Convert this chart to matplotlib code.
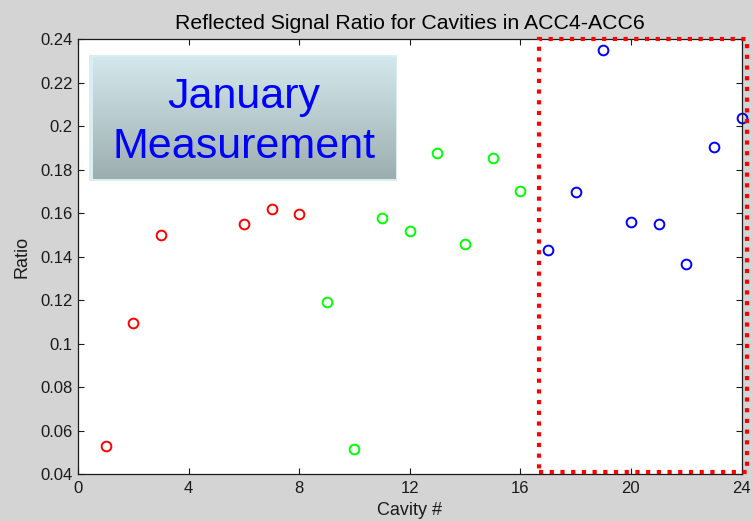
import numpy as np
import matplotlib
matplotlib.use("Agg")
import matplotlib.pyplot as plt
from matplotlib.patches import Rectangle

# Cavity numbers and reflected signal ratios, grouped by cryomodule
acc4_cavity = [1, 2, 3, 6, 7, 8]
acc4_ratio = [0.0532, 0.1097, 0.1502, 0.1549, 0.1620, 0.1595]

acc5_cavity = [9, 10, 11, 12, 13, 14, 15, 16]
acc5_ratio = [0.1192, 0.0515, 0.1578, 0.1519, 0.1879, 0.1460, 0.1853, 0.1703]

acc6_cavity = [17, 18, 19, 20, 21, 22, 23, 24]
acc6_ratio = [0.1430, 0.1697, 0.2349, 0.1559, 0.1550, 0.1367, 0.1905, 0.2040]

x_ticks = [0, 4, 8, 12, 16, 20, 24]
y_ticks = [0.04, 0.06, 0.08, 0.1, 0.12, 0.14, 0.16, 0.18, 0.2, 0.22, 0.24]
y_tick_labels = ["0.04", "0.06", "0.08", "0.1", "0.12", "0.14", "0.16",
                 "0.18", "0.2", "0.22", "0.24"]

# Highlighted region (ACC6) in data units
box_x = [16.67, 24.2]
box_y = [0.0412, 0.2400]

plt.rcParams['font.family'] = ['Liberation Sans', 'DejaVu Sans']

W, H = 753, 521
fig = plt.figure(figsize=(W / 100, H / 100), dpi=100)
fig.patch.set_facecolor('#d4d4d4')

ax = fig.add_axes([78 / W, 1 - 474.3 / H, (741.5 - 78) / W, (474.3 - 39.3) / H])
ax.set_facecolor('white')

mstyle = dict(linestyle='none', marker='o', markersize=7.0,
              markerfacecolor='none', markeredgewidth=1.4)
ax.plot(acc4_cavity, acc4_ratio, markeredgecolor='#ff0000', **mstyle)
ax.plot(acc5_cavity, acc5_ratio, markeredgecolor='#00ff00', **mstyle)
ax.plot(acc6_cavity, acc6_ratio, markeredgecolor='#0000ff', clip_on=False, **mstyle)

ax.set_xlim(0, 24)
ax.set_ylim(0.04, 0.24)
ax.set_xticks(x_ticks)
ax.set_yticks(y_ticks)
ax.set_yticklabels(y_tick_labels)
ax.tick_params(direction='in', length=4.5, width=0.8, top=True, right=True,
               labelsize=12, colors='#1a1a1a', pad=4)
ax.tick_params(axis='x', pad=5)
for s in ax.spines.values():
    s.set_color('#1a1a1a')
    s.set_linewidth(0.9)

ax.set_title("Reflected Signal Ratio for Cavities in ACC4-ACC6", fontsize=15.3,
             color='#000000', pad=7.5)
ax.set_xlabel("Cavity #", fontsize=13, color='#1a1a1a', labelpad=4)
ax.set_ylabel("Ratio", fontsize=13, color='#1a1a1a', labelpad=7)

# Dotted red frame around the ACC6 cavities
rect = Rectangle((box_x[0], box_y[0]), box_x[1] - box_x[0], box_y[1] - box_y[0],
                 fill=False, edgecolor='#ff0000', linewidth=3.0,
                 linestyle=(0, (1, 1.57)), clip_on=False, zorder=5)
rect.set_capstyle('butt')
ax.add_patch(rect)

# "January Measurement" label panel with a vertical gradient
ox0, ox1, oy0, oy1 = 89.3, 397.3, 55, 181
outer = fig.add_axes([ox0 / W, 1 - oy1 / H, (ox1 - ox0) / W, (oy1 - oy0) / H])
outer.set_facecolor('#d9eef1')
outer.set_xticks([]); outer.set_yticks([])
for s in outer.spines.values():
    s.set_visible(False)

ix0, ix1, iy0, iy1 = 92.5, 395.3, 57, 179
inner = fig.add_axes([ix0 / W, 1 - iy1 / H, (ix1 - ix0) / W, (iy1 - iy0) / H])
top = np.array([0.83, 0.915, 0.93])
bot = np.array([0.615, 0.68, 0.685])
t = np.linspace(0, 1, 200)[:, None]
grad = (top[None, :] * (1 - t) + bot[None, :] * t)[:, None, :]
inner.imshow(grad, aspect='auto', extent=[0, 1, 0, 1], interpolation='bilinear')
inner.set_xlim(0, 1); inner.set_ylim(0, 1)
inner.set_xticks([]); inner.set_yticks([])
for s in inner.spines.values():
    s.set_visible(False)
inner.text(0.5, 0.67, "January", ha='center', va='center', fontsize=31,
           color='#0000ff', transform=inner.transAxes)
inner.text(0.5, 0.265, "Measurement", ha='center', va='center', fontsize=31,
           color='#0000ff', transform=inner.transAxes)

fig.savefig("out.png", dpi=100, facecolor=fig.get_facecolor())
